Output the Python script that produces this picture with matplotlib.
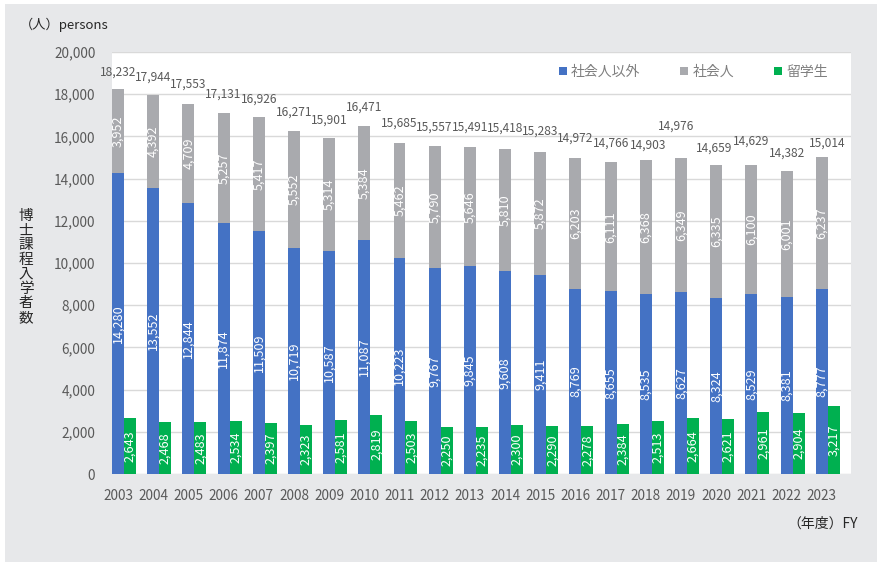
import matplotlib
matplotlib.use("Agg")
import matplotlib.pyplot as plt
from matplotlib.patches import Patch, Rectangle
import numpy as np

plt.rcParams['font.family'] = ['Noto Sans CJK JP', 'DejaVu Sans']

years = [str(y) for y in range(2003, 2024)]
non_working = [14280, 13552, 12844, 11874, 11509, 10719, 10587, 11087, 10223, 9767,
               9845, 9608, 9411, 8769, 8655, 8535, 8627, 8324, 8529, 8381, 8777]
working = [3952, 4392, 4709, 5257, 5417, 5552, 5314, 5384, 5462, 5790,
           5646, 5810, 5872, 6203, 6111, 6368, 6349, 6335, 6100, 6001, 6237]
totals = [18232, 17944, 17553, 17131, 16926, 16271, 15901, 16471, 15685, 15557,
          15491, 15418, 15283, 14972, 14766, 14903, 14976, 14659, 14629, 14382, 15014]
intl = [2643, 2468, 2483, 2534, 2397, 2323, 2581, 2819, 2503, 2250,
        2235, 2300, 2290, 2278, 2384, 2513, 2664, 2621, 2961, 2904, 3217]
series_names = ['社会人以外', '社会人', '留学生']

# label offsets in pixels (layout, not data)
tot_dy = [17, 18, 19, 18, 18, 19, 18, 19, 20, 19, 20, 21, 20, 20, 19, 14, 32, 17, 24, 17, 14]
tot_dx = [0] * 21
tot_dx[15] = 2
tot_dx[16] = -5
tot_dx[17] = -2
tot_dx[20] = 5

C_BLUE = '#4472C4'
C_GRAY = '#A9AAAE'
C_GREEN = '#00B050'
TXT = '#595959'

W, H = 878, 562
fig = plt.figure(figsize=(W / 100, H / 100), dpi=100)
fig.patch.set_facecolor('white')
fig.patches.append(Rectangle((5 / W, 0), 1 - 5 / W, 1 - 4 / H, transform=fig.transFigure,
                             facecolor='#E7E8EA', edgecolor='none', zorder=-10))

ax = fig.add_axes([112 / W, 88 / H, (851 - 112) / W, 422 / H])
ax.set_facecolor('white')

x = np.arange(len(years))
w = 0.34
xb = x - 0.5 + w / 2
xg = x - 0.5 + 1.5 * w

ax.bar(xb, non_working, width=w, color=C_BLUE, zorder=3)
ax.bar(xb, working, bottom=non_working, width=w, color=C_GRAY, zorder=3)
ax.bar(xg, intl, width=w, color=C_GREEN, zorder=3)

ax.set_xlim(-0.5, len(years) - 0.5)
ax.set_ylim(0, 20000)
ax.set_yticks(np.arange(0, 20001, 2000))
ax.set_yticklabels([f'{v:,}' for v in range(0, 20001, 2000)])
ax.set_xticks(xb)
ax.set_xticklabels(years)
ax.tick_params(axis='both', length=0, labelsize=9.8, labelcolor=TXT)
ax.tick_params(axis='y', pad=12)
ax.tick_params(axis='x', pad=11)
ax.grid(axis='y', color='#D9D9D9', linewidth=1, zorder=0)
for s in ax.spines.values():
    s.set_visible(False)

for i in range(len(years)):
    ax.text(xb[i], non_working[i] / 2, f'{non_working[i]:,}', rotation=90, ha='center',
            va='center', color='white', fontsize=9.1, zorder=5)
    ax.text(xb[i], non_working[i] + working[i] / 2, f'{working[i]:,}', rotation=90,
            ha='center', va='center', color='white', fontsize=9.1, zorder=5)
    ax.text(xg[i], intl[i] / 2, f'{intl[i]:,}', rotation=90, ha='center', va='center',
            color='white', fontsize=9.1, zorder=5)
    ax.annotate(f'{totals[i]:,}', xy=(xb[i], totals[i]), xytext=(tot_dx[i], tot_dy[i]),
                textcoords='offset pixels', ha='center', va='center', color=TXT,
                fontsize=8.6, zorder=5, annotation_clip=False)

handles = [Patch(facecolor=c, edgecolor='none') for c in (C_BLUE, C_GRAY, C_GREEN)]
ax.legend(handles, series_names, loc='center left', bbox_to_anchor=(559 / W, 1 - 72 / H),
          bbox_transform=fig.transFigure, ncol=3, frameon=False, fontsize=10,
          handlelength=0.55, handleheight=0.55, handletextpad=0.3, columnspacing=2.9,
          borderpad=0, borderaxespad=0, labelcolor='#7F7F7F')

fig.text(20 / W, 1 - 25 / H, '（人）persons', ha='left', va='center', fontsize=9.5,
         color='#262626')
fig.text(26 / W, 1 - 267 / H, '\n'.join('博士課程入学者数'), ha='center', va='center',
         fontsize=10.5, color='#262626', linespacing=1.05)
fig.text(858 / W, 1 - 524 / H, '（年度）FY', ha='right', va='center', fontsize=10,
         color='#262626')

fig.savefig('out.png', dpi=100, facecolor=fig.get_facecolor())
